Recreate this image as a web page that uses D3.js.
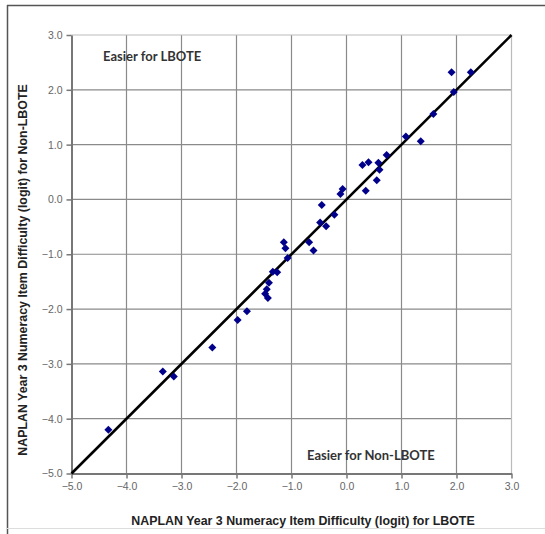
<!DOCTYPE html>
<html><head><meta charset="utf-8">
<script src="https://cdn.jsdelivr.net/npm/d3@7"></script>
<style>html,body{margin:0;padding:0;background:#fff;}svg{display:block;}</style>
</head><body>
<svg id="c" width="545" height="534"></svg>
<script>
const lboteX = [-4.33,-3.34,-3.14,-2.44,-1.98,-1.81,-1.45,-1.48,-1.43,-1.41,-1.34,-1.26,-1.14,-1.11,-1.07,-0.68,-0.60,-0.48,-0.37,-0.45,-0.22,-0.11,-0.07,0.35,0.29,0.40,0.55,0.60,0.58,0.73,1.08,1.35,1.58,1.91,1.95,2.26];
const nonLboteY = [-4.20,-3.14,-3.23,-2.70,-2.20,-2.04,-1.64,-1.72,-1.80,-1.52,-1.32,-1.33,-0.78,-0.89,-1.07,-0.78,-0.93,-0.42,-0.49,-0.10,-0.28,0.10,0.19,0.16,0.63,0.68,0.35,0.54,0.67,0.81,1.15,1.06,1.56,2.32,1.96,2.32];
const tickValues = [-5,-4,-3,-2,-1,0,1,2,3];
const domain = [-5,3];
const xTitle = "NAPLAN Year 3 Numeracy Item Difficulty (logit) for LBOTE";
const yTitle = "NAPLAN Year 3 Numeracy Item Difficulty (logit) for Non-LBOTE";
const noteTop = "Easier for LBOTE";
const noteBottom = "Easier for Non-LBOTE";

const svg = d3.select("#c");
// outer frame
svg.append("line").attr("x1",7).attr("x2",545).attr("y1",5.5).attr("y2",5.5).attr("stroke","#555").attr("stroke-width",1.5);
svg.append("line").attr("x1",7.5).attr("x2",7.5).attr("y1",5).attr("y2",534).attr("stroke","#555").attr("stroke-width",1.5);
svg.append("line").attr("x1",7).attr("x2",545).attr("y1",528.5).attr("y2",528.5).attr("stroke","#ddd").attr("stroke-width",1);

const L=71.5, R=511.5, T=35, B=473.5;
const x = d3.scaleLinear().domain(domain).range([L,R]);
const y = d3.scaleLinear().domain(domain).range([B,T]);

// gridlines
const g = svg.append("g");
g.selectAll(".gx").data(tickValues.slice(1,-1)).join("line")
 .attr("x1",d=>x(d)).attr("x2",d=>x(d)).attr("y1",T).attr("y2",B)
 .attr("stroke","#8a8a8a").attr("stroke-width",1.2);
g.selectAll(".gy").data(tickValues.slice(1,-1)).join("line")
 .attr("y1",d=>y(d)).attr("y2",d=>y(d)).attr("x1",L).attr("x2",R)
 .attr("stroke","#8a8a8a").attr("stroke-width",1.2);
// top/right border
g.append("line").attr("x1",L).attr("x2",R).attr("y1",T).attr("y2",T).attr("stroke","#bbb").attr("stroke-width",1.2);
g.append("line").attr("x1",R).attr("x2",R).attr("y1",T).attr("y2",B).attr("stroke","#bbb").attr("stroke-width",1.2);

// axes
const fmt = d3.format(".1f");
const xAxis = svg.append("g").attr("transform",`translate(0,${B})`)
 .call(d3.axisBottom(x).tickValues(tickValues).tickFormat(fmt).tickSize(5).tickSizeOuter(0));
const yAxis = svg.append("g").attr("transform",`translate(${L},0)`)
 .call(d3.axisLeft(y).tickValues(tickValues).tickFormat(fmt).tickSize(5).tickSizeOuter(0));
[xAxis,yAxis].forEach(a=>{
  a.select(".domain").attr("stroke","#777").attr("stroke-width",2);
  a.selectAll(".tick line").attr("stroke","#777").attr("stroke-width",1.5);
  a.selectAll("text").attr("fill","#666").attr("font-family","Liberation Sans, Arial, sans-serif").attr("font-size",10.5);
});
xAxis.selectAll("text").attr("dy","0.71em").attr("y",9);
yAxis.selectAll("text").attr("x",-9);

// diagonal
svg.append("line").attr("x1",x(domain[0])).attr("y1",y(domain[0])).attr("x2",x(domain[1])).attr("y2",y(domain[1]))
 .attr("stroke","#000").attr("stroke-width",2.6);

// points
const pts = lboteX.map((v,i)=>({x:v,y:nonLboteY[i]}));
svg.append("g").selectAll("path").data(pts).join("path")
 .attr("d",d3.symbol(d3.symbolSquare,32))
 .attr("transform",d=>`translate(${x(d.x)},${y(d.y)}) rotate(45)`)
 .attr("fill","#00008b");

// notes
svg.append("text").attr("x",103).attr("y",61).text(noteTop)
 .attr("font-family","Lato, Open Sans, sans-serif").attr("font-weight","bold").attr("font-size",13).attr("fill","#333");
svg.append("text").attr("x",307).attr("y",460).text(noteBottom)
 .attr("font-family","Lato, Open Sans, sans-serif").attr("font-weight","bold").attr("font-size",13).attr("fill","#333");

// titles
svg.append("text").attr("x",303).attr("y",525).attr("text-anchor","middle").text(xTitle)
 .attr("font-family","Liberation Sans, Arial, sans-serif").attr("font-weight","bold").attr("font-size",12.4).attr("fill","#222");
svg.append("text").attr("transform","translate(27,270) rotate(-90)").attr("text-anchor","middle").text(yTitle)
 .attr("font-family","Liberation Sans, Arial, sans-serif").attr("font-weight","bold").attr("font-size",12.4).attr("fill","#222");
</script>
</body></html>
